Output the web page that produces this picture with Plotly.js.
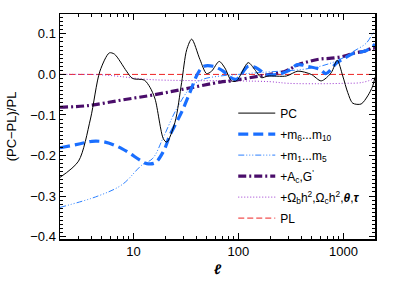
<!DOCTYPE html>
<html><head><meta charset="utf-8">
<script src="https://cdn.plot.ly/plotly-3.0.1.min.js"></script>
<style>html,body{margin:0;padding:0;background:#fff}#chart{width:395px;height:282px}</style>
</head><body><div id="chart"></div>
<script>
// PC
const pcL = [2,3,3.9,4.8,5.9,6.6,8.6,9.8,12.7,14.4,16.1,19.3,20.8,24.9,28.8,32.2,35.9,43,49.8,55.6,65.6,74.3,86,96,124,143,166,191,286,369,494,615,765,873,986,1101,1228,1475,1705,1900,2000];
const pcV = [-0.254,-0.214,-0.11,0.008,0.053,0.050,0.008,-0.010,-0.014,-0.032,-0.061,-0.159,-0.167,-0.118,-0.020,0.061,0.087,0.037,0.002,0.008,0.032,0.016,-0.016,-0.016,0.029,0.012,-0.008,-0.004,-0.004,0.008,0.000,-0.016,0.004,0.035,-0.004,-0.045,-0.071,-0.073,-0.053,-0.029,-0.007];
// +m6...m10
const m610L = [2,3.12,4.03,5.38,7.76,12.0,13.4,16.1,19.3,22.3,28.8,34.5,41.4,47,57.5,71.6,79.8,96,124,148.6,185,237,294,366,456,600,680,760,860,1023,1274,1585,1900,2000];
const m610V = [-0.181,-0.171,-0.165,-0.167,-0.183,-0.214,-0.220,-0.218,-0.19,-0.15,-0.093,-0.045,0.004,0.02,0.02,0.008,-0.004,-0.012,0.02,0.016,0.0,0.0,0.008,0.024,0.02,0.012,0.002,0.012,0.028,0.04,0.053,0.057,0.069,0.075];
// +m1...m5
const m15L = [2,4.6,7.8,12,15.3,19.3,25.8,35.9,46,67,100,150,250,400,600,800,1000,1250,1650,1900,2000];
const m15V = [-0.328,-0.300,-0.272,-0.224,-0.207,-0.155,-0.085,-0.029,-0.012,-0.004,0.0,0.004,0.008,0.012,0.02,0.03,0.041,0.057,0.077,0.10,0.105];
// +Ac,G'
const acL = [2,3.7,7.8,16,32,67,85,160,200,280,370,470,600,770,1020,1270,1580,1900,2000];
const acV = [-0.081,-0.077,-0.063,-0.050,-0.035,-0.019,-0.016,-0.004,0.0,0.008,0.024,0.032,0.038,0.04,0.045,0.053,0.057,0.065,0.064];
// +Ωb h^2, Ωc h^2, θ, τ
const omL = [2,5,8,10,15,30,100,200,300,600,1000,1500,2000];
const omV = [0,-0.001,-0.006,-0.009,-0.013,-0.015,-0.016,-0.018,-0.022,-0.023,-0.022,-0.02,-0.01];
// PL
const plL = [2,2000];
const plV = [0,0];

const names = ['PC','+m<sub>6</sub>...m<sub>10</sub>','+m<sub>1</sub>...m<sub>5</sub>','+A<sub>c</sub>,G<sup>\'</sup>','+Ω<sub>b</sub>h<sup>2</sup>,Ω<sub>c</sub>h<sup>2</sup>,<b><i>θ</i></b>,<b><i>τ</i></b>','PL'];

const traces = [
 {x:plL,y:plV,name:names[5],legendrank:6,legendgroup:'g6',line:{color:'#ee2424',width:1,dash:'6px,3px'}},
 {x:omL,y:omV,name:names[4],legendrank:5,legendgroup:'g5',line:{color:'#9b35cf',width:1,dash:'1px,2px',shape:'spline'}},
 {x:acL,y:acV,name:names[3],legendrank:4,legendgroup:'g4',line:{color:'#4a0d6a',width:3.2,dash:'8px,3px,2px,3px',shape:'spline'}},
 {x:m15L,y:m15V,name:names[2],legendrank:3,legendgroup:'g3',line:{color:'#2a7fff',width:1,dash:'6px,2px,1px,2px,1px,2px,1px,2px',shape:'spline'}},
 {x:m610L,y:m610V,name:names[1],legendrank:2,legendgroup:'g2',line:{color:'#1a6fff',width:3.2,dash:'10px,5px',shape:'spline'}},
 {x:pcL,y:pcV,name:names[0],legendrank:1,legendgroup:'g1',line:{color:'#000',width:1,shape:'spline',smoothing:0.8}}
].map(t=>Object.assign({type:'scatter',mode:'lines'},t));

const minorX = [];
[1,10,100,1000].forEach(d=>{for(let k=2;k<=9;k++){const v=k*d; if(v>=2&&v<=2000) minorX.push(v);}});
minorX.push(2000);

const font = {family:'Liberation Sans, Arial, sans-serif', size:13, color:'#000'};
const layout = {
  width:395,height:282,
  margin:{l:60,r:20,t:14,b:43},
  paper_bgcolor:'#fff',plot_bgcolor:'#fff',
  font:font,
  showlegend:true,
  legend:{x:0.55,y:0.624,xanchor:'left',yanchor:'top',bgcolor:'rgba(0,0,0,0)',font:{family:font.family,size:12},
    traceorder:'grouped',tracegroupgap:2,itemwidth:37},
  xaxis:{type:'log',range:[Math.log10(2),Math.log10(2000)],tickmode:'array',tickvals:[10,100,1000],ticktext:['10','100','1000'],
    ticks:'inside',ticklen:6,tickwidth:1,tickcolor:'#000',showline:true,linecolor:'#000',linewidth:1.5,mirror:'allticks',
    showgrid:false,zeroline:false,
    minor:{tickmode:'array',tickvals:minorX,ticks:'inside',ticklen:3,tickwidth:1,tickcolor:'#000',showgrid:false},
    title:{text:'<b><i>ℓ</i></b>',font:{size:14},standoff:6}},
  yaxis:{range:[-0.406,0.149],tickmode:'array',tickvals:[-0.4,-0.3,-0.2,-0.1,0,0.1],tickformat:'.1f',
    ticks:'inside',ticklen:6,tickwidth:1,tickcolor:'#000',showline:true,linecolor:'#000',linewidth:1.5,mirror:'allticks',
    showgrid:false,zeroline:false,
    minor:{dtick:0.01,tick0:0,ticks:'inside',ticklen:3,tickwidth:1,tickcolor:'#000',showgrid:false},
    title:{text:'(PC−PL)/PL',font:{size:13},standoff:10}}
};
Plotly.newPlot('chart',traces,layout,{staticPlot:true,displayModeBar:false});
</script></body></html>
